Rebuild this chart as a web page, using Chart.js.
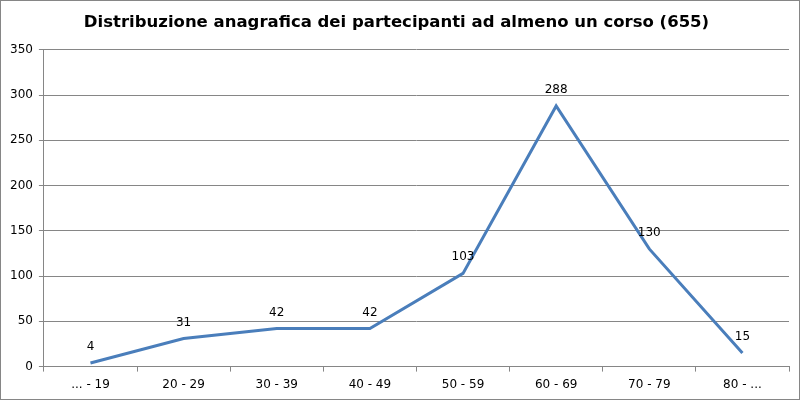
<!DOCTYPE html>
<html>
<head>
<meta charset="utf-8">
<script src="https://cdn.jsdelivr.net/npm/chart.js@4"></script>
<style>
  body { margin: 0; background: #fff; }
  canvas { display: block; }
</style>
</head>
<body>
<canvas id="ageChart" width="800" height="400"></canvas>
<script>
const fasce = ['... - 19', '20 - 29', '30 - 39', '40 - 49', '50 - 59', '60 - 69', '70 - 79', '80 - ...']
const partecipanti = [4, 31, 42, 42, 103, 288, 130, 15]

const grigio = '#868686'
const font = 'Verdana, "DejaVu Sans", sans-serif'

// valori sopra i punti, come nell'originale
const etichette = {
    id: 'etichette',
    afterDatasetsDraw(chart) {
        const ctx = chart.ctx
        const meta = chart.getDatasetMeta(0)
        ctx.save()
        ctx.font = '12px ' + font
        ctx.fillStyle = '#000'
        ctx.textAlign = 'center'
        ctx.textBaseline = 'middle'
        meta.data.forEach((p, i) => {
            ctx.fillText(partecipanti[i], p.x, p.y - 16)
        })
        ctx.restore()
    }
}

const bordo = {
    id: 'bordo',
    afterDraw(chart) {
        const ctx = chart.ctx
        ctx.save()
        ctx.strokeStyle = grigio
        ctx.lineWidth = 1
        ctx.strokeRect(0.5, 0.5, chart.width - 1, chart.height - 1)
        ctx.restore()
    }
}

let ctx = document.getElementById('ageChart').getContext('2d')
let ageChart = new Chart(ctx, {
    type: 'line',
    data: {
        labels: fasce,
        datasets: [{
            data: partecipanti,
            borderColor: '#4a7ebb',
            borderWidth: 3,
            pointRadius: 0,
            fill: false,
            tension: 0
        }]
    },
    options: {
        responsive: false,
        animation: false,
        layout: { padding: { left: 4, right: 11, top: 0, bottom: 2 } },
        plugins: {
            legend: { display: false },
            tooltip: { enabled: false },
            title: {
                display: true,
                text: 'Distribuzione anagrafica dei partecipanti ad almeno un corso (655)',
                color: '#000',
                font: { family: font, size: 16.5, weight: 'bold' },
                padding: { top: 13, bottom: 17 }
            }
        },
        scales: {
            x: {
                offset: true,
                grid: {
                    offset: true,
                    drawOnChartArea: false,
                    color: grigio,
                    tickLength: 5,
                    tickColor: grigio
                },
                border: { color: grigio },
                ticks: { color: '#000', font: { family: font, size: 12 }, padding: 6, maxRotation: 0 }
            },
            y: {
                min: 0,
                max: 350,
                ticks: { stepSize: 50, color: '#000', font: { family: font, size: 12 }, padding: 6 },
                grid: { color: grigio, tickLength: 5, tickColor: grigio },
                border: { color: grigio }
            }
        }
    },
    plugins: [etichette, bordo]
})
</script>
</body>
</html>
